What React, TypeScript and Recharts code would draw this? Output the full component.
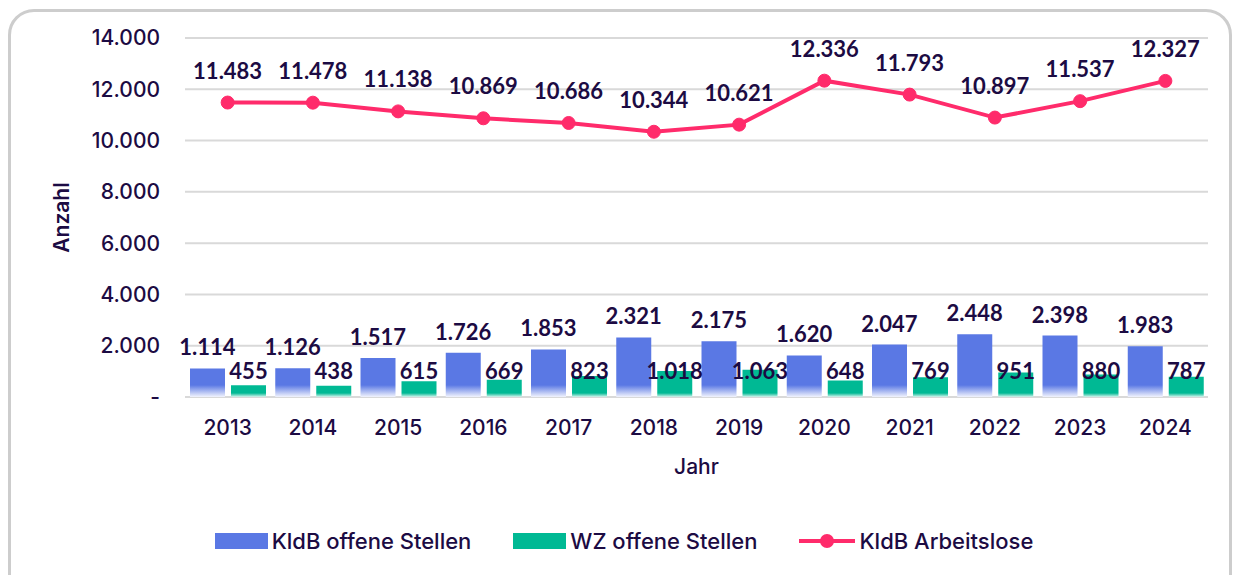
import { ComposedChart, Bar, Line, XAxis, YAxis, CartesianGrid, Legend, LabelList, Label } from 'recharts'

const years = ['2013', '2014', '2015', '2016', '2017', '2018', '2019', '2020', '2021', '2022', '2023', '2024']
const kldbOffen = [1114, 1126, 1517, 1726, 1853, 2321, 2175, 1620, 2047, 2448, 2398, 1983]
const wzOffen = [455, 438, 615, 669, 823, 1018, 1063, 648, 769, 951, 880, 787]
const kldbArbeitslose = [11483, 11478, 11138, 10869, 10686, 10344, 10621, 12336, 11793, 10897, 11537, 12327]
const yTicks = [0, 2000, 4000, 6000, 8000, 10000, 12000, 14000]

const data = years.map((jahr, i) => ({
  jahr,
  kldbOffen: kldbOffen[i],
  wzOffen: wzOffen[i],
  kldbArbeitslose: kldbArbeitslose[i],
}))

const INK = '#1c0b43'
const BLUE = '#5a78e4'
const GREEN = '#00b994'
const PINK = '#ff2b6b'
const FONT = 'Inter, sans-serif'
const BOLD_FONT = 'Lato, sans-serif'

const W = 1236
const H = 575
const MARGIN = { top: 38, right: 28, left: 40, bottom: 19 }
const LEGEND_H = 30
const XAXIS_H = 129
const PLOT_BOTTOM = H - MARGIN.bottom - LEGEND_H - XAXIS_H

const legendItems = [
  { name: 'KldB offene Stellen', color: BLUE, kind: 'rect' },
  { name: 'WZ offene Stellen', color: GREEN, kind: 'rect' },
  { name: 'KldB Arbeitslose', color: PINK, kind: 'line' },
]

const fmt = (v: number) => (v === 0 ? '-' : String(v).replace(/\B(?=(\d{3})+(?!\d))/g, '.'))

const tickStyle = { fontSize: 21, fill: INK, fontFamily: FONT, fontWeight: 500 }
const labelStyle = { fontSize: 22, fontWeight: 700, fill: INK, fontFamily: BOLD_FONT }

function LegendContent() {
  return (
    <div style={{ display: 'flex', justifyContent: 'center', alignItems: 'center', height: LEGEND_H, fontFamily: FONT, fontWeight: 500, fontSize: 22, color: INK }}>
      {legendItems.map((p) => (
        <div key={p.name} style={{ display: 'flex', alignItems: 'center', margin: '0 21px' }}>
          {p.kind === 'line' ? (
            <svg width={56} height={18} style={{ marginRight: 4 }}>
              <line x1={0} y1={9} x2={56} y2={9} stroke={p.color} strokeWidth={4} />
              <circle cx={28} cy={9} r={7} fill={p.color} />
            </svg>
          ) : (
            <div style={{ width: 53, height: 16, background: p.color, marginRight: 4 }} />
          )}
          <span>{p.name}</span>
        </div>
      ))}
    </div>
  )
}

export default function App() {
  return (
    <div style={{ position: 'fixed', left: 0, top: 0, width: W, height: H, background: '#fff', overflow: 'hidden' }}>
      <div
        style={{
          position: 'absolute',
          left: 8,
          top: 9,
          width: 1224,
          height: 640,
          border: '3px solid #cdcdcd',
          borderRadius: 26,
          boxSizing: 'border-box',
        }}
      />
      <div style={{ position: 'absolute', left: 0, top: 0 }}>
        <ComposedChart width={W} height={H} data={data} margin={MARGIN} barGap={6}>
          <defs>
            <linearGradient id="blueFade" gradientUnits="userSpaceOnUse" x1={0} y1={PLOT_BOTTOM - 12} x2={0} y2={PLOT_BOTTOM}>
              <stop offset="0" stopColor={BLUE} />
              <stop offset="1" stopColor="#f2f4fd" />
            </linearGradient>
            <linearGradient id="greenFade" gradientUnits="userSpaceOnUse" x1={0} y1={PLOT_BOTTOM - 4} x2={0} y2={PLOT_BOTTOM}>
              <stop offset="0" stopColor={GREEN} />
              <stop offset="1" stopColor="#d8f4ee" />
            </linearGradient>
          </defs>
          <CartesianGrid vertical={false} stroke="#d9d9d9" strokeWidth={2} />
          <XAxis
            dataKey="jahr"
            axisLine={false}
            tickLine={false}
            tickSize={0}
            tickMargin={23}
            height={XAXIS_H}
            tick={tickStyle}
          >
            <Label value="Jahr" position="insideTop" offset={62} style={tickStyle} />
          </XAxis>
          <YAxis
            domain={[0, 14000]}
            ticks={yTicks}
            tickFormatter={fmt}
            axisLine={false}
            tickLine={false}
            tickSize={0}
            tickMargin={25}
            width={145}
            tick={tickStyle}
          >
            <Label
              value="Anzahl"
              angle={-90}
              position="insideLeft"
              offset={22}
              textAnchor="middle"
              style={{ ...tickStyle, fontWeight: 600, textAnchor: 'middle' }}
            />
          </YAxis>
          <Legend verticalAlign="bottom" height={LEGEND_H} content={<LegendContent />} />
          <Bar dataKey="kldbOffen" name="KldB offene Stellen" fill="url(#blueFade)" barSize={35} isAnimationActive={false}>
            <LabelList dataKey="kldbOffen" position="top" offset={13} formatter={(v: any) => fmt(Number(v))} style={labelStyle} />
          </Bar>
          <Bar dataKey="wzOffen" name="WZ offene Stellen" fill="url(#greenFade)" barSize={35} isAnimationActive={false}>
            <LabelList dataKey="wzOffen" position="insideBottom" offset={18} formatter={(v: any) => fmt(Number(v))} style={labelStyle} />
          </Bar>
          <Line
            dataKey="kldbArbeitslose"
            name="KldB Arbeitslose"
            stroke={PINK}
            strokeWidth={4}
            dot={{ r: 6.5, fill: PINK, stroke: PINK, strokeWidth: 1 }}
            activeDot={false}
            isAnimationActive={false}
          >
            <LabelList dataKey="kldbArbeitslose" position="top" offset={24} formatter={(v: any) => fmt(Number(v))} style={labelStyle} />
          </Line>
        </ComposedChart>
      </div>
    </div>
  )
}
